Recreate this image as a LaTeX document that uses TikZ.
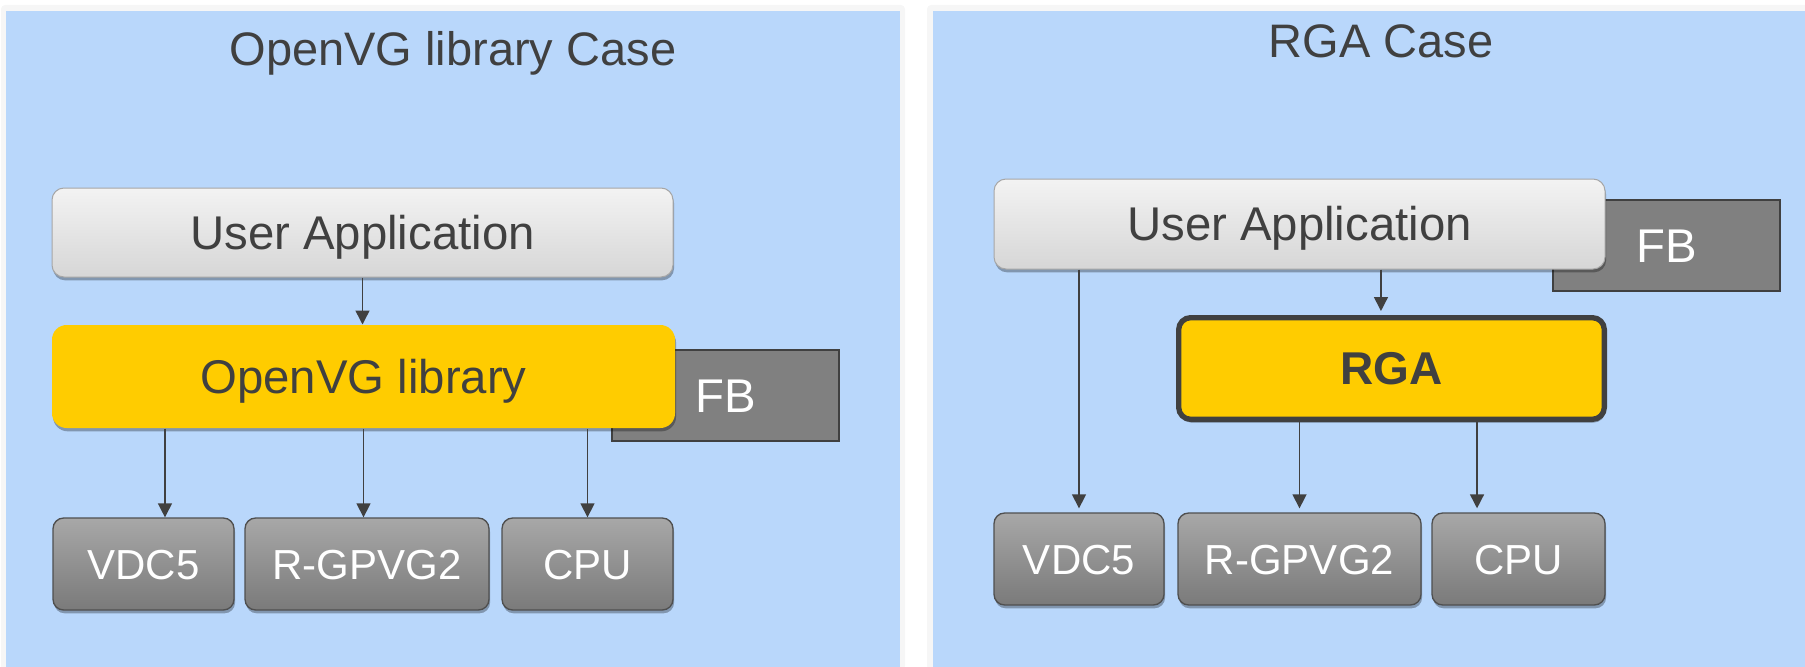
\documentclass[tikz,border=0pt]{standalone}
\usepackage{fontspec}
\setmainfont{Liberation Sans}
\usetikzlibrary{arrows.meta,shadows}

\definecolor{panelblue}{HTML}{B9D7FB}
\definecolor{framegray}{HTML}{F6F6F6}
\definecolor{txtgray}{HTML}{404040}
\definecolor{boxyellow}{HTML}{FFCC00}
\definecolor{fbgray}{HTML}{808080}
\definecolor{apptop}{HTML}{F3F3F3}
\definecolor{appbot}{HTML}{D6D6D6}
\definecolor{apprim}{HTML}{A6A6A6}
\definecolor{hwtop}{HTML}{A8A8A8}
\definecolor{hwbot}{HTML}{7A7A7A}
\definecolor{hwrim}{HTML}{4F4F4F}

\tikzset{every picture/.style={line width=0.75pt}}
\tikzset{
  panel/.style={fill=panelblue},
  softshadow/.style={drop shadow={shadow xshift=0.8pt,shadow yshift=-2.5pt,opacity=0.3,fill=black}},
  ttl/.style={anchor=base,inner sep=0pt,text=txtgray,font=\fontsize{35.25}{40}\selectfont},
  appbox/.style={rounded corners=9pt,draw=apprim,top color=apptop,bottom color=appbot,
    text=txtgray,font=\fontsize{35.5}{40}\selectfont,text height=25.4pt,text depth=0pt,
    inner sep=0pt,softshadow},
  libbox/.style={rounded corners=11pt,fill=boxyellow,text=txtgray,
    font=\fontsize{35.5}{40}\selectfont,text height=25.4pt,text depth=0pt,inner sep=0pt,softshadow},
  rgabox/.style={rounded corners=9pt,draw=txtgray,line width=4pt,fill=boxyellow,text=txtgray,
    font=\fontsize{34.5}{40}\bfseries\selectfont,text height=24.7pt,text depth=0pt,inner sep=0pt,softshadow},
  fbbox/.style={draw=txtgray,line width=1.5pt,fill=fbgray,text=white,
    font=\fontsize{35.5}{40}\selectfont,text height=25.4pt,text depth=0pt,inner sep=0pt},
  hwbox/.style={rounded corners=8pt,draw=hwrim,line width=1pt,top color=hwtop,bottom color=hwbot,text=white,
    font=\fontsize{31.5}{36}\selectfont,text height=22.6pt,text depth=0pt,inner sep=0pt,
    minimum height=69pt,softshadow},
  arw/.style={draw=txtgray,line width=1.1pt,-{Triangle[length=10.5pt,width=10.5pt]}}
}

\begin{document}
\begin{tikzpicture}[x=0.75pt,y=0.75pt,yscale=-1,xscale=1]
\useasboundingbox (0,0) rectangle (1805,667);

% Panels
\fill[framegray,rounded corners=3pt] (1,5) rectangle (905,670);
\fill[framegray,rounded corners=3pt] (927,5) rectangle (1810,670);
\fill[panel] (6,11) rectangle (900,667);
\fill[panel] (933,11) rectangle (1805,667);

% Text Node
\node (ttlA) at (453,65) [ttl] {OpenVG library Case};
% Text Node
\node (ttlB) at (1381,58) [ttl] {RGA Case};

%---- OpenVG library case
\node (fbA) at (725.5,395.5) [fbbox,minimum width=170.25pt,minimum height=68.25pt] {FB};
\node (appA) at (362.5,232.5) [appbox,minimum width=465.75pt,minimum height=66.75pt] {User Application};
\node (ovg) at (363.5,376.5) [libbox,minimum width=467.25pt,minimum height=77.25pt] {OpenVG library};
\node (vdcA) at (143.5,564) [hwbox,minimum width=135.75pt] {VDC5};
\node (gpvA) at (367,564) [hwbox,minimum width=183pt] {R-GPVG2};
\node (cpuA) at (587.5,564) [hwbox,minimum width=128.25pt] {CPU};

\draw[arw] (appA.south) -- (appA.south |- ovg.north);
\draw[arw] ([xshift=16.1pt]vdcA.north |- ovg.south) -- ([xshift=16.1pt]vdcA.north);
\draw[arw] (ovg.south) -- (ovg.south |- gpvA.north);
\draw[arw] (cpuA.north |- ovg.south) -- (cpuA.north);

%---- RGA case
\node (fbB) at (1666.5,245.5) [fbbox,minimum width=170.25pt,minimum height=68.25pt] {FB};
\node (appB) at (1299.5,224) [appbox,minimum width=458.25pt,minimum height=67.5pt] {User Application};
\node (rga) at (1391.5,368.5) [rgabox,minimum width=319.25pt,minimum height=76.25pt] {RGA};
\node (vdcB) at (1079,559) [hwbox,minimum width=127.5pt] {VDC5};
\node (gpvB) at (1299.5,559) [hwbox,minimum width=182.25pt] {R-GPVG2};
\node (cpuB) at (1518.5,559) [hwbox,minimum width=129.75pt] {CPU};

\draw[arw,shorten >=3pt] (vdcB.north |- appB.south) -- (vdcB.north);
\draw[arw,shorten >=3pt] ([xshift=-7.9pt]rga.north |- appB.south) -- ([xshift=-7.9pt]rga.north);
\draw[arw,shorten >=3pt] (gpvB.north |- rga.south) -- (gpvB.north);
\draw[arw,shorten >=3pt] ([xshift=-31.1pt]cpuB.north |- rga.south) -- ([xshift=-31.1pt]cpuB.north);
\end{tikzpicture}
\end{document}
